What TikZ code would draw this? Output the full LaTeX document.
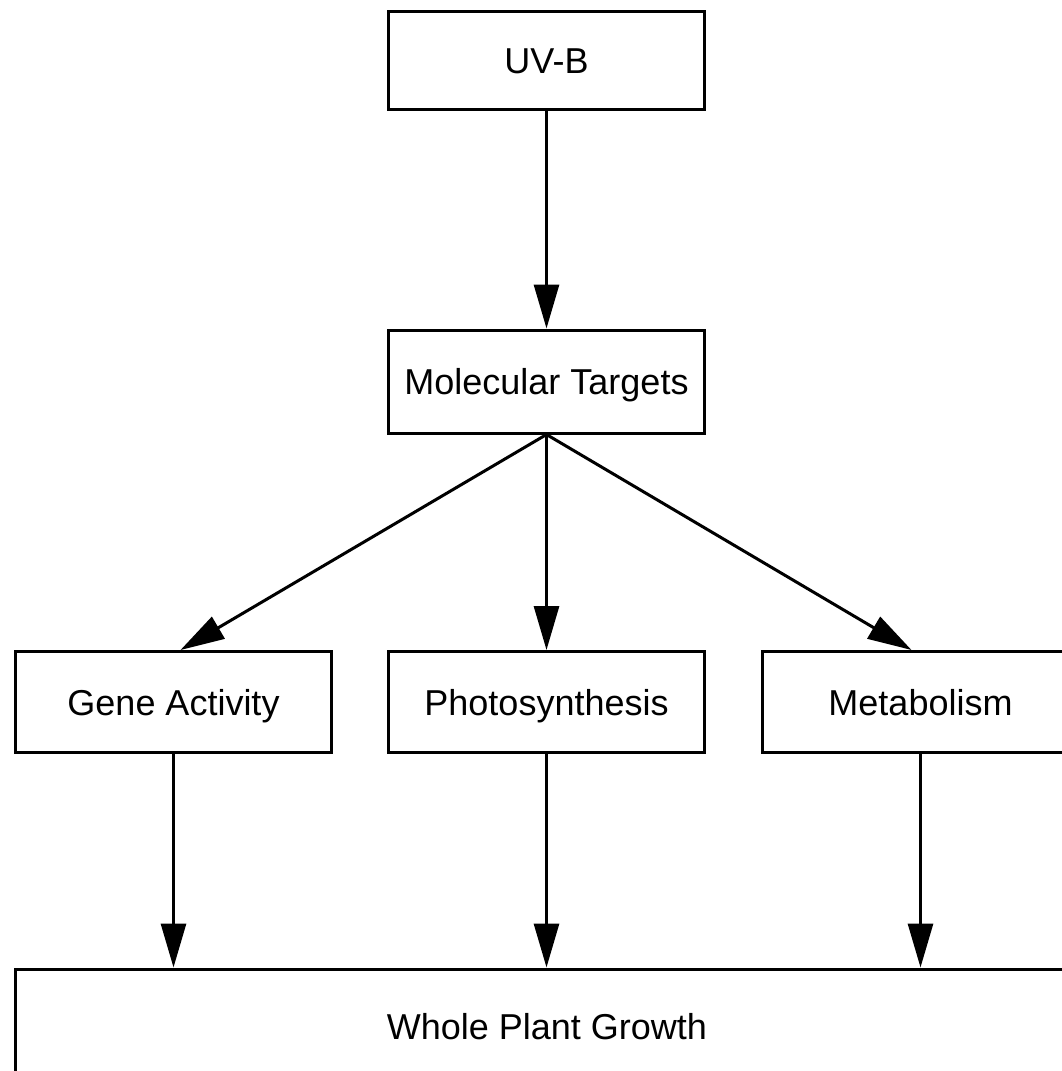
\documentclass[tikz,border=0pt]{standalone}
\usepackage{fontspec}
\setmainfont{Liberation Sans}
\usetikzlibrary{arrows.meta}
\begin{document}
\begin{tikzpicture}[x=1pt,y=-1pt,
  box/.style={draw,line width=3pt,rectangle,inner sep=0pt,
    minimum width=316pt,minimum height=101pt,
    text height=26pt,text depth=0pt,
    font=\fontsize{36}{40}\selectfont},
  conn/.style={line width=3pt,-{Triangle[width=25pt,length=44pt]}}]
\useasboundingbox (0,0) rectangle (1062,1071);
\clip (0,0) rectangle (1062,1071);
\node[box,minimum height=98pt] (uvb) at (546.5,60) {UV-B};
\node[box,minimum height=103pt] (mol) at (546.5,381.5) {Molecular Targets};
\node[box] (gene) at (173.5,702) {Gene Activity};
\node[box] (photo) at (546.5,702) {Photosynthesis};
\node[box] (metab) at (920.5,702) {Metabolism};
\node[box,minimum width=1064pt,minimum height=114pt] (whole) at (547,1026) {Whole Plant Growth};
\draw[conn] (uvb.south) -- (mol.north);
\draw[conn] (mol.south) -- ([xshift=7pt]gene.north);
\draw[conn] (mol.south) -- (photo.north);
\draw[conn] (mol.south) -- ([xshift=-9pt]metab.north);
\draw[conn] (gene.south) -- (gene.south |- whole.north);
\draw[conn] (photo.south) -- (photo.south |- whole.north);
\draw[conn] (metab.south) -- (metab.south |- whole.north);
\end{tikzpicture}
\end{document}
